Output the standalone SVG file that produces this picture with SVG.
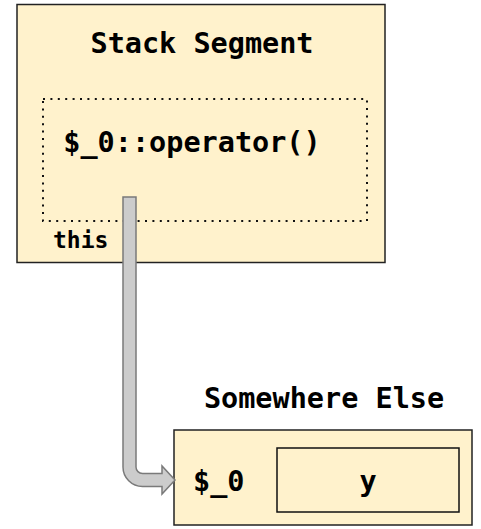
<svg xmlns="http://www.w3.org/2000/svg" width="481" height="529" viewBox="0 0 481 529">
  <style>
    .box { fill: #fff2cc; stroke: #222; stroke-width: 1.5; }
    .frame { fill: none; stroke: #111; stroke-width: 2; stroke-dasharray: 2 5.4; }
    .inner { fill: none; stroke: #111; stroke-width: 1.5; }
    .lbl { font-family: "DejaVu Sans Mono", "Liberation Mono", monospace; font-weight: bold; font-size: 28.5px; fill: #000; }
    .small { font-size: 23px; }
    .ptr { fill: #cccccc; stroke: #7a7a7a; stroke-width: 1.5; stroke-linejoin: miter; }
  </style>

  <!-- stack segment holding the call frame -->
  <g id="stack-segment">
    <rect class="box" x="17" y="4.5" width="368" height="258"/>
    <text class="lbl" x="202" y="53" text-anchor="middle">Stack Segment</text>
  </g>

  <g id="operator-frame">
    <rect class="frame" x="43" y="99" width="324" height="122"/>
    <text class="lbl" x="192" y="152" text-anchor="middle">$_0::operator()</text>
  </g>

  <g id="this-label">
    <text class="lbl small" x="53" y="248">this</text>
  </g>

  <!-- closure object stored elsewhere -->
  <g id="somewhere-else">
    <text class="lbl" x="324" y="408" text-anchor="middle">Somewhere Else</text>
    <rect class="box" x="174" y="430" width="298" height="95"/>
    <text class="lbl" x="193" y="491">$_0</text>
  </g>

  <g id="member-y">
    <rect class="inner" x="277" y="448" width="182" height="64" fill="none"/>
    <text class="lbl" x="368" y="491" text-anchor="middle">y</text>
  </g>

  <!-- "this" pointer to the closure -->
  <g id="connectors">
    <path class="ptr" d="M123,197 H136 V467 A6.5,6.5 0 0 0 142.5,473.5 H162 V466 L175,480 L162,494 V486.5 H142.5 A19.5,19.5 0 0 1 123,467 Z"/>
  </g>
</svg>
